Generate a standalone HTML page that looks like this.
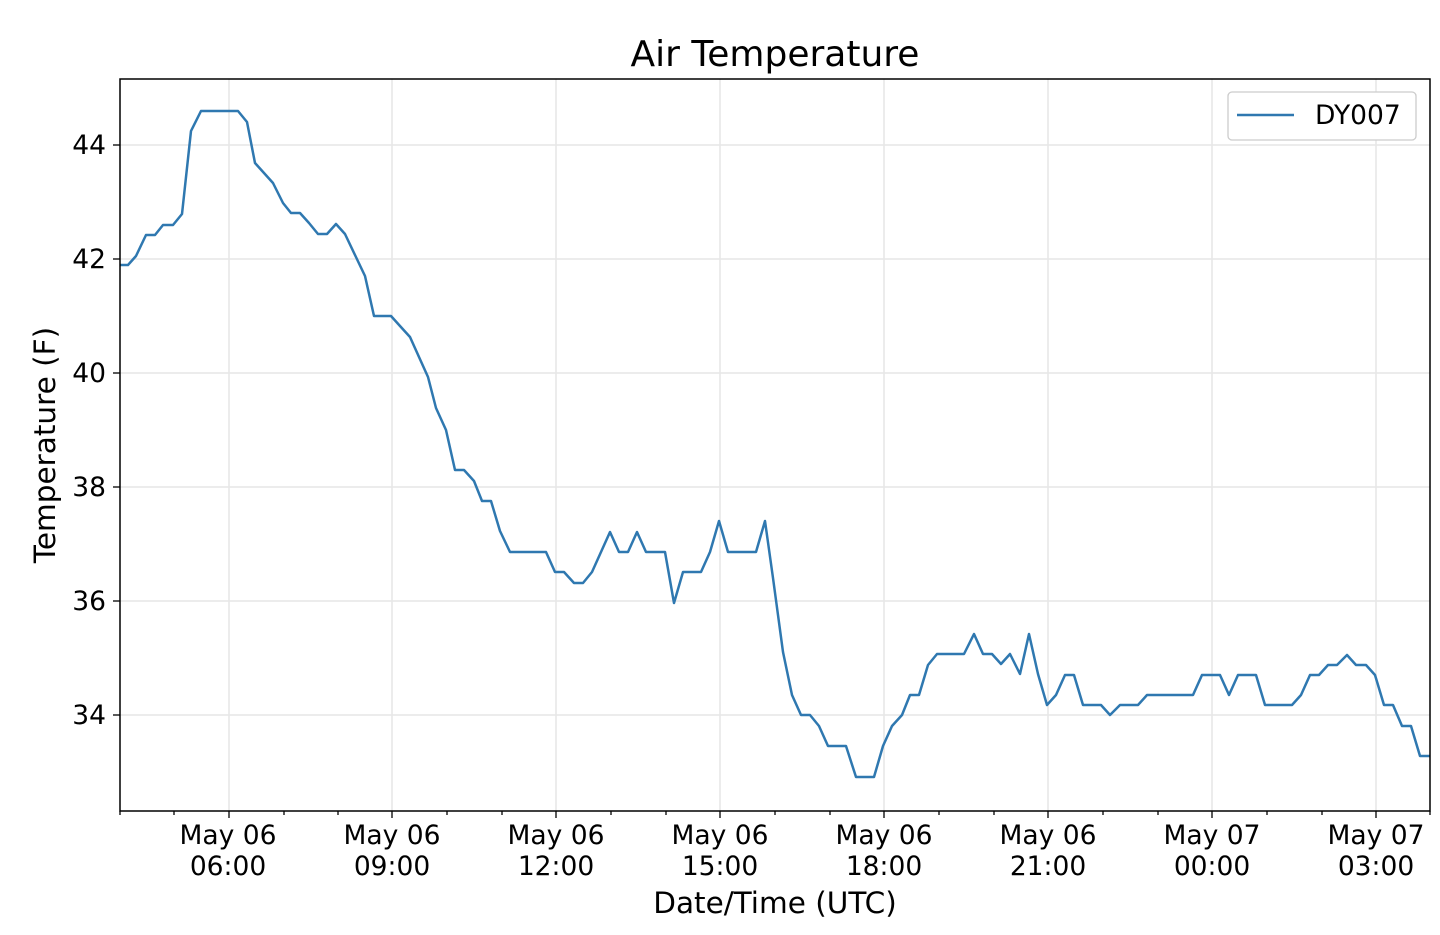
<!DOCTYPE html>
<html><head><meta charset="utf-8"><style>body{margin:0;background:#fff}svg{display:block}text{font-family:"DejaVu Sans",sans-serif;fill:#000}</style></head><body>
<svg width="1440" height="935" xmlns="http://www.w3.org/2000/svg">
<g stroke="#e6e6e6" stroke-width="1.5">
<line x1="229" y1="79" x2="229" y2="811"/><line x1="392" y1="79" x2="392" y2="811"/><line x1="556" y1="79" x2="556" y2="811"/><line x1="720" y1="79" x2="720" y2="811"/><line x1="884" y1="79" x2="884" y2="811"/><line x1="1048" y1="79" x2="1048" y2="811"/><line x1="1212" y1="79" x2="1212" y2="811"/><line x1="1376" y1="79" x2="1376" y2="811"/>
<line x1="120" y1="145" x2="1430" y2="145"/><line x1="120" y1="259" x2="1430" y2="259"/><line x1="120" y1="373" x2="1430" y2="373"/><line x1="120" y1="487" x2="1430" y2="487"/><line x1="120" y1="601" x2="1430" y2="601"/><line x1="120" y1="715" x2="1430" y2="715"/>
</g>
<polyline fill="none" stroke="#2f78b0" stroke-width="2.5" stroke-linejoin="round" points="120,265 128,265 136,256 146,235 155,235 163,225 173,225 182,214 191,131 201,111 238,111 247,122 255,163 264,173 273,183 283,203 291,213 300,213 309,223 318,234 327,234 336,224 345,234 355,255 365,276 374,316 391,316 400,326 410,337 419,357 428,377 436,408 446,430 455,470 464,470 474,481 482,501 491,501 500,531 510,552 546,552 555,572 564,572 574,583 583,583 592,572 601,552 610,532 619,552 628,552 637,532 646,552 665,552 674,603 683,572 701,572 710,552 719,521 728,552 756,552 765,521 773,578 783,652 792,695 801,715 810,715 819,726 828,746 846,746 856,777 874,777 883,746 892,726 902,715 910,695 919,695 928,665 937,654 964,654 974,634 983,654 992,654 1001,664 1010,654 1020,674 1029,634 1038,674 1047,705 1056,695 1065,675 1074,675 1083,705 1101,705 1110,715 1120,705 1138,705 1147,695 1193,695 1202,675 1220,675 1229,695 1238,675 1256,675 1265,705 1292,705 1301,695 1310,675 1319,675 1328,665 1337,665 1347,655 1356,665 1366,665 1375,675 1384,705 1393,705 1402,726 1411,726 1420,756 1430,756"/>
<rect x="120" y="79" width="1310" height="732" fill="none" stroke="#000" stroke-width="1.5"/>
<g stroke="#000" stroke-width="1.3">
<line x1="113" y1="145" x2="120" y2="145"/><line x1="113" y1="259" x2="120" y2="259"/><line x1="113" y1="373" x2="120" y2="373"/><line x1="113" y1="487" x2="120" y2="487"/><line x1="113" y1="601" x2="120" y2="601"/><line x1="113" y1="715" x2="120" y2="715"/>
<line x1="229" y1="811" x2="229" y2="818"/><line x1="392" y1="811" x2="392" y2="818"/><line x1="556" y1="811" x2="556" y2="818"/><line x1="720" y1="811" x2="720" y2="818"/><line x1="884" y1="811" x2="884" y2="818"/><line x1="1048" y1="811" x2="1048" y2="818"/><line x1="1212" y1="811" x2="1212" y2="818"/><line x1="1376" y1="811" x2="1376" y2="818"/>
<line x1="120" y1="811" x2="120" y2="815"/><line x1="174" y1="811" x2="174" y2="815"/><line x1="284" y1="811" x2="284" y2="815"/><line x1="338" y1="811" x2="338" y2="815"/><line x1="447" y1="811" x2="447" y2="815"/><line x1="502" y1="811" x2="502" y2="815"/><line x1="611" y1="811" x2="611" y2="815"/><line x1="666" y1="811" x2="666" y2="815"/><line x1="775" y1="811" x2="775" y2="815"/><line x1="830" y1="811" x2="830" y2="815"/><line x1="939" y1="811" x2="939" y2="815"/><line x1="994" y1="811" x2="994" y2="815"/><line x1="1103" y1="811" x2="1103" y2="815"/><line x1="1158" y1="811" x2="1158" y2="815"/><line x1="1267" y1="811" x2="1267" y2="815"/><line x1="1322" y1="811" x2="1322" y2="815"/><line x1="1430" y1="811" x2="1430" y2="815"/>
</g>
<g font-size="26.5" text-anchor="end">
<text x="106" y="154">44</text><text x="106" y="268">42</text><text x="106" y="382">40</text><text x="106" y="496">38</text><text x="106" y="610">36</text><text x="106" y="724">34</text>
</g>
<g font-size="26.5" text-anchor="middle">
<text x="228" y="844">May 06</text><text x="228" y="875">06:00</text>
<text x="392" y="844">May 06</text><text x="392" y="875">09:00</text>
<text x="556" y="844">May 06</text><text x="556" y="875">12:00</text>
<text x="720" y="844">May 06</text><text x="720" y="875">15:00</text>
<text x="884" y="844">May 06</text><text x="884" y="875">18:00</text>
<text x="1048" y="844">May 06</text><text x="1048" y="875">21:00</text>
<text x="1212" y="844">May 07</text><text x="1212" y="875">00:00</text>
<text x="1376" y="844">May 07</text><text x="1376" y="875">03:00</text>
<text x="775" y="913" font-size="29.5">Date/Time (UTC)</text>
<text x="775" y="66" font-size="36">Air Temperature</text>
<text transform="translate(55,445) rotate(-90)" font-size="29.5">Temperature (F)</text>
</g>
<rect x="1228" y="92" width="188" height="48" rx="4" fill="#fff" stroke="#ccc" stroke-width="1.3"/>
<line x1="1237" y1="115" x2="1294" y2="115" stroke="#2f78b0" stroke-width="2.5"/>
<text x="1315" y="124" font-size="26.5">DY007</text>
</svg>
</body></html>
